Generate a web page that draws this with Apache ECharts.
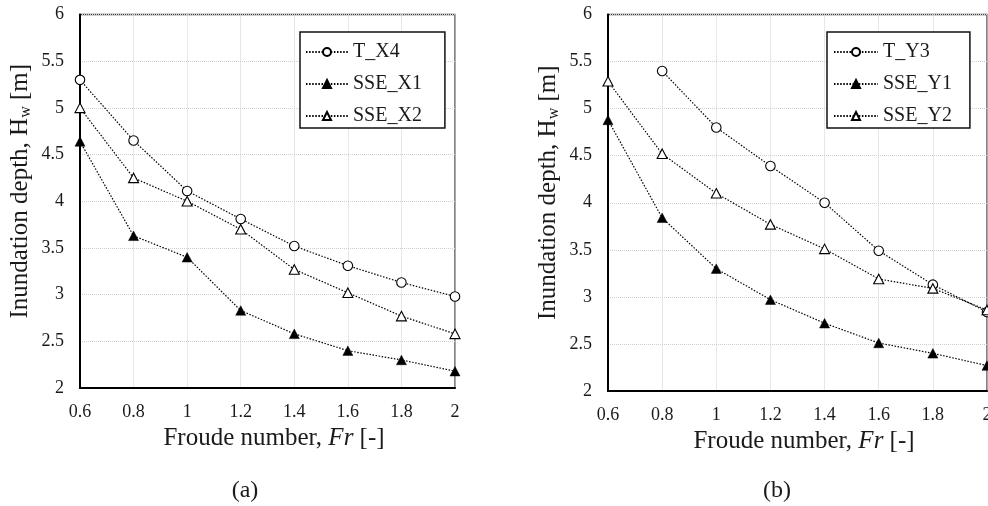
<!DOCTYPE html>
<html>
<head>
<meta charset="utf-8">
<script src="https://cdn.jsdelivr.net/npm/echarts@6/dist/echarts.min.js"></script>
<style>
  html, body { margin: 0; padding: 0; background: #fff; }
  #chart { width: 988px; height: 506px; }
</style>
</head>
<body>
<div id="chart"></div>
<script>
// Froude numbers tested
const froude = [0.6, 0.8, 1.0, 1.2, 1.4, 1.6, 1.8, 2.0];

// Axis ranges / ticks
const xTicks = [0.6, 0.8, 1.0, 1.2, 1.4, 1.6, 1.8, 2.0];
const yTicks = [2, 2.5, 3, 3.5, 4, 4.5, 5, 5.5, 6];

// (a) inundation depth [m], X-direction gauges
const tX4   = [5.30, 4.65, 4.11, 3.81, 3.52, 3.31, 3.13, 2.98];
const sseX1 = [4.64, 3.63, 3.40, 2.83, 2.58, 2.40, 2.30, 2.18];
const sseX2 = [5.00, 4.25, 4.00, 3.70, 3.27, 3.02, 2.77, 2.58];

// (b) inundation depth [m], Y-direction gauges (no T_Y3 value at Fr = 0.6)
const tY3   = [null, 5.40, 4.80, 4.39, 4.00, 3.49, 3.13, 2.84];
const sseY1 = [4.88, 3.84, 3.30, 2.97, 2.72, 2.51, 2.40, 2.27];
const sseY2 = [5.29, 4.52, 4.10, 3.77, 3.51, 3.19, 3.09, 2.86];

const FONT = '"Liberation Serif", "Times New Roman", serif';
const INK = '#1a1a1a';

function pairs(ys) {
  return froude.map((x, i) => ys[i] == null ? null : [x, ys[i]]).filter(p => p);
}

const markers = {
  openCircle:   { symbol: 'circle',   symbolSize: 9.5,      itemStyle: { color: '#fff', borderColor: '#000', borderWidth: 1.1 } },
  fillTriangle: { symbol: 'triangle', symbolSize: [10, 9.5], itemStyle: { color: '#000', borderColor: '#000', borderWidth: 0.5 } },
  openTriangle: { symbol: 'triangle', symbolSize: [10, 9.5], itemStyle: { color: '#fff', borderColor: '#000', borderWidth: 1.1 } }
};

function lineSeries(name, ys, marker, idx) {
  const m = markers[marker];
  return {
    type: 'line',
    name: name,
    xAxisIndex: idx,
    yAxisIndex: idx,
    data: pairs(ys),
    symbol: m.symbol,
    symbolSize: m.symbolSize,
    showAllSymbol: true,
    itemStyle: m.itemStyle,
    lineStyle: { color: '#000', width: 1.2, type: [1.5, 1.6] },
    emphasis: { disabled: true },
    animation: false,
    z: marker === 'openCircle' ? 3 : 4
  };
}

function xAxis(idx) {
  return {
    type: 'value',
    gridIndex: idx,
    min: xTicks[0],
    max: xTicks[xTicks.length - 1],
    interval: 0.2,
    name: 'Froude number, {it|Fr} [-]',
    nameLocation: 'middle',
    nameGap: 37,
    nameTextStyle: {
      fontFamily: FONT, fontSize: 25, color: INK,
      padding: [0, 0, 0, 13],
      rich: { it: { fontFamily: FONT, fontSize: 25, fontStyle: 'italic', color: INK } }
    },
    axisLine: { show: true, onZero: false, lineStyle: { color: '#000', width: 2 } },
    axisTick: { show: false },
    axisLabel: {
      fontFamily: FONT, fontSize: 18, color: INK, margin: 15,
      showMinLabel: true, showMaxLabel: true, hideOverlap: false,
      alignMinLabel: 'center', alignMaxLabel: 'center',
      formatter: v => String(Math.round(v * 10) / 10)
    },
    splitLine: { show: true, lineStyle: { color: '#cfcfcf', width: 1, type: 'dotted' } }
  };
}

function yAxis(idx) {
  return {
    type: 'value',
    gridIndex: idx,
    min: yTicks[0],
    max: yTicks[yTicks.length - 1],
    interval: 0.5,
    name: 'Inundation depth, H{sub|w} [m]',
    nameLocation: 'middle',
    nameGap: 47,
    nameTextStyle: {
      fontFamily: FONT, fontSize: 25, color: INK, lineHeight: 26,
      padding: [0, 0, 0, 20],
      rich: { sub: { fontFamily: FONT, fontSize: 16, color: INK, padding: [12, 0, 0, 0] } }
    },
    axisLine: { show: true, onZero: false, lineStyle: { color: '#000', width: 2 } },
    axisTick: { show: false },
    axisLabel: {
      fontFamily: FONT, fontSize: 18, color: INK, margin: 16,
      showMinLabel: true, showMaxLabel: true,
      formatter: v => String(Math.round(v * 10) / 10)
    },
    splitLine: { show: true, lineStyle: { color: '#cfcfcf', width: 1, type: 'dotted' } }
  };
}

function legend(names, left, padding, itemWidth) {
  return {
    data: names,
    orient: 'vertical',
    left: left,
    top: 32,
    padding: padding,
    itemWidth: itemWidth,
    itemHeight: 10,
    itemGap: 10,
    backgroundColor: '#fff',
    borderColor: '#111',
    borderWidth: 1.5,
    borderRadius: 0,
    selectedMode: false,
    textStyle: { fontFamily: FONT, fontSize: 20, color: INK, lineHeight: 22 }
  };
}

const chart = echarts.init(document.getElementById('chart'), null, { renderer: 'canvas' });

chart.setOption({
  backgroundColor: '#fff',
  animation: false,
  title: [
    { text: '(a)', left: 245, top: 479, textAlign: 'center', padding: 0,
      textStyle: { fontFamily: FONT, fontSize: 24, fontWeight: 'normal', color: INK } },
    { text: '(b)', left: 777, top: 479, textAlign: 'center', padding: 0,
      textStyle: { fontFamily: FONT, fontSize: 24, fontWeight: 'normal', color: INK } }
  ],
  grid: [
    { left: 80,  top: 14.5, width: 375, height: 373.5, show: true, borderColor: '#444', borderWidth: 1.3, backgroundColor: 'transparent', outerBoundsMode: 'none' },
    { left: 608, top: 14.5, width: 379, height: 376.5, show: true, borderColor: '#444', borderWidth: 1.3, backgroundColor: 'transparent', outerBoundsMode: 'none' }
  ],
  xAxis: [xAxis(0), xAxis(1)],
  yAxis: [yAxis(0), yAxis(1)],
  legend: [
    legend(['T_X4', 'SSE_X1', 'SSE_X2'], 300, [9, 23, 1, 5], 42),
    legend(['T_Y3', 'SSE_Y1', 'SSE_Y2'], 827, [9, 18, 1, 6], 44)
  ],
  series: [
    lineSeries('T_X4',   tX4,   'openCircle',   0),
    lineSeries('SSE_X1', sseX1, 'fillTriangle', 0),
    lineSeries('SSE_X2', sseX2, 'openTriangle', 0),
    lineSeries('T_Y3',   tY3,   'openCircle',   1),
    lineSeries('SSE_Y1', sseY1, 'fillTriangle', 1),
    lineSeries('SSE_Y2', sseY2, 'openTriangle', 1)
  ]
});
</script>
</body>
</html>
